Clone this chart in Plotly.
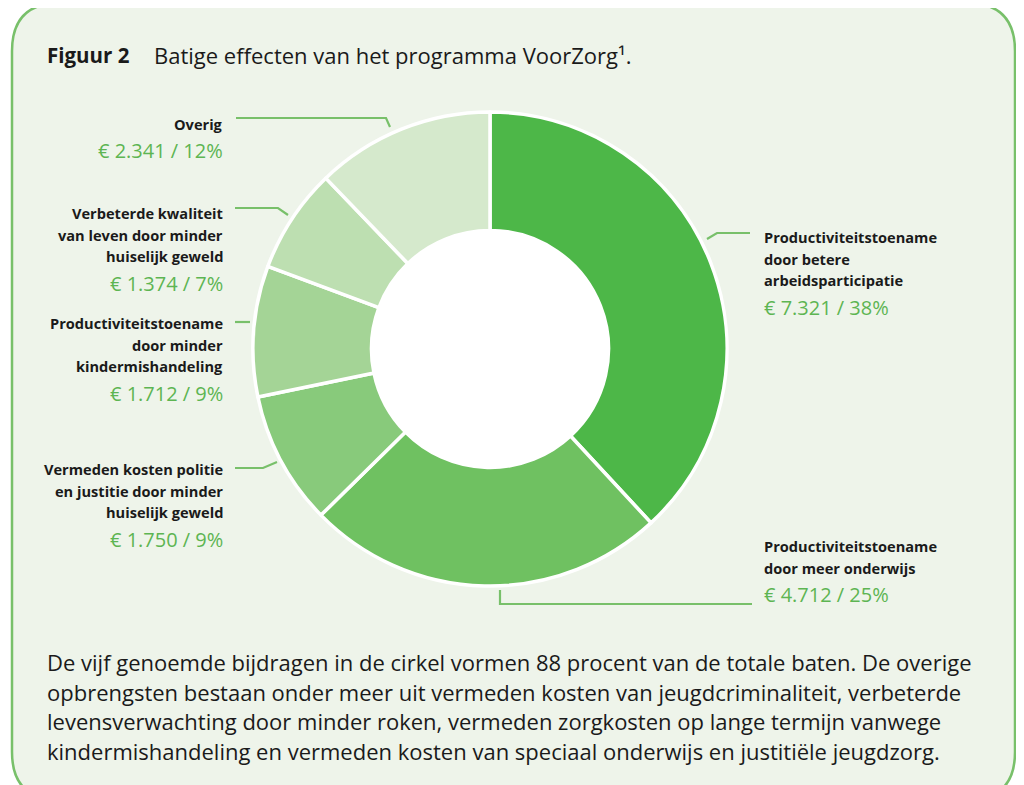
import plotly.graph_objects as go

# ---- data ----
categories = [
    "Productiviteitstoename door betere arbeidsparticipatie",
    "Productiviteitstoename door meer onderwijs",
    "Vermeden kosten politie en justitie door minder huiselijk geweld",
    "Productiviteitstoename door minder kindermishandeling",
    "Verbeterde kwaliteit van leven door minder huiselijk geweld",
    "Overig",
]
values = [7321, 4712, 1750, 1712, 1374, 2341]
value_labels = ["€ 7.321", "€ 4.712", "€ 1.750", "€ 1.712", "€ 1.374", "€ 2.341"]
percent_labels = ["38%", "25%", "9%", "9%", "7%", "12%"]
label_lines = [
    ["Productiviteitstoename", "door betere", "arbeidsparticipatie"],
    ["Productiviteitstoename", "door meer onderwijs"],
    ["Vermeden kosten politie", "en justitie door minder", "huiselijk geweld"],
    ["Productiviteitstoename", "door minder", "kindermishandeling"],
    ["Verbeterde kwaliteit", "van leven door minder", "huiselijk geweld"],
    ["Overig"],
]
colors = ["#4DB748", "#6FC161", "#88CA7B", "#A4D496", "#BDDFB1", "#D5E9CC"]

title_bold = "Figuur 2"
title_text = "Batige effecten van het programma VoorZorg¹."
footnote_lines = [
    "De vijf genoemde bijdragen in de cirkel vormen 88 procent van de totale baten. De overige",
    "opbrengsten bestaan onder meer uit vermeden kosten van jeugdcriminaliteit, verbeterde",
    "levensverwachting door minder roken, vermeden zorgkosten op lange termijn vanwege",
    "kindermishandeling en vermeden kosten van speciaal onderwijs en justitiële jeugdzorg.",
]

# ---- layout constants (screen pixel coordinates; page has an 8px body margin) ----
OFF = 8
W, H = 1024 - OFF, 785 - OFF
FONT = "Open Sans"
BG = "#EEF4EA"
BORDER = "#78C06A"
GREEN_TXT = "#5DB552"
cx, cy, R = 490, 349, 237
hole = 0.5

fig = go.Figure()
fig.add_trace(go.Scatter(x=[], y=[], showlegend=False))
fig.add_trace(go.Pie(
    labels=categories, values=values, sort=False, direction="clockwise",
    rotation=0, hole=hole, textinfo="none", hoverinfo="label+value+percent",
    marker=dict(colors=colors, line=dict(color="white", width=3.5)),
    domain=dict(x=[(cx - R - OFF) / W, (cx + R - OFF) / W],
                y=[1 - (cy + R - OFF) / H, 1 - (cy - R - OFF) / H]),
    showlegend=False,
))

shapes = []
L, T, Rr, B, rad = 12, 3, 1015, 800, 48
panel = (f"M {L+rad},{T} L {Rr-rad},{T} Q {Rr},{T} {Rr},{T+rad} L {Rr},{B-rad} "
         f"Q {Rr},{B} {Rr-rad},{B} L {L+rad},{B} Q {L},{B} {L},{B-rad} L {L},{T+rad} Q {L},{T} {L+rad},{T} Z")
shapes.append(dict(type="path", path=panel, xref="x", yref="y", fillcolor=BG,
                   line=dict(width=0), layer="below"))
shapes.append(dict(type="line", xref="x", yref="y", x0=L + rad, x1=Rr - rad, y0=T, y1=T,
                   line=dict(color="#DCE8D6", width=1.5), layer="below"))
left = f"M {L+rad},{T} Q {L},{T} {L},{T+rad} L {L},{B-rad} Q {L},{B} {L+rad},{B}"
right = f"M {Rr-rad},{T} Q {Rr},{T} {Rr},{T+rad} L {Rr},{B-rad} Q {Rr},{B} {Rr-rad},{B}"
for p in (left, right):
    shapes.append(dict(type="path", path=p, xref="x", yref="y",
                       line=dict(color=BORDER, width=2.5), layer="below"))
hr = R * hole
shapes.append(dict(type="circle", xref="x", yref="y", x0=cx - hr, x1=cx + hr,
                   y0=cy - hr, y1=cy + hr, fillcolor="white", line=dict(width=0), layer="below"))
leaders = [
    "M 750,233 L 717,233 L 707,239",
    "M 752,604 L 500,604 L 500,590",
    "M 235,468 L 263,468 L 277,462",
    "M 235,322 L 250,322",
    "M 235,208 L 278,208 L 288,215",
    "M 236,118 L 386,118 L 390,127",
]
for p in leaders:
    shapes.append(dict(type="path", path=p, xref="x", yref="y",
                       line=dict(color=BORDER, width=2.2), layer="above"))

annotations = []
def txt(x, y, s, size, color="#1A1A1A", anchor="left", bold=False):
    if bold:
        s = f"<b>{s}</b>"
    annotations.append(dict(x=x, y=y, xref="x", yref="y", text=s, showarrow=False,
                            xanchor=anchor, yanchor="middle",
                            font=dict(family=FONT, size=size, color=color)))

txt(45, 55, title_bold, 20.5, bold=True)
txt(152, 55, title_text, 22)

label_pos = [
    (762, "left", 237),
    (762, "left", 546),
    (225, "right", 469),
    (225, "right", 323),
    (225, "right", 213),
    (225, "right", 124),
]
LS = 21.7
for i, (x, anc, y0) in enumerate(label_pos):
    lines = label_lines[i]
    for j, line in enumerate(lines):
        txt(x, y0 + j * LS, line, 14.6, anchor=anc, bold=True)
    txt(x, y0 + len(lines) * LS + 5, f"{value_labels[i]} / {percent_labels[i]}", 20,
        color=GREEN_TXT, anchor=anc)

for k, line in enumerate(footnote_lines):
    txt(45, 662 + k * 29.5, line, 22)

fig.update_layout(
    width=W, height=H, margin=dict(l=0, r=0, t=0, b=0),
    paper_bgcolor="white", plot_bgcolor="rgba(0,0,0,0)",
    xaxis=dict(range=[OFF, 1024], visible=False, fixedrange=True, domain=[0, 1]),
    yaxis=dict(range=[785, OFF], visible=False, fixedrange=True, domain=[0, 1]),
    shapes=shapes, annotations=annotations, showlegend=False,
)
fig.write_html("out.html")
